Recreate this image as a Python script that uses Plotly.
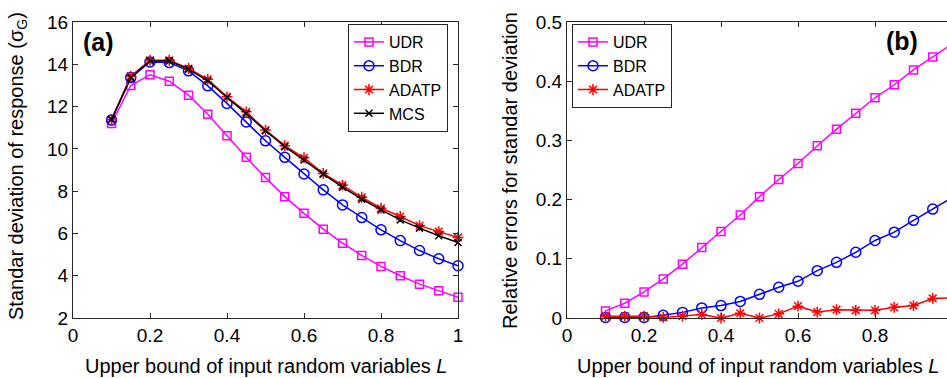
import plotly.graph_objects as go

# ---------------- data ----------------
L_values = [0.1, 0.15, 0.2, 0.25, 0.3, 0.35, 0.4, 0.45, 0.5, 0.55,
            0.6, 0.65, 0.7, 0.75, 0.8, 0.85, 0.9, 0.95, 1.0]

sigma_udr = [11.2, 13.0, 13.5, 13.2, 12.54, 11.64, 10.62, 9.6, 8.64, 7.74,
             6.95, 6.2, 5.54, 4.96, 4.44, 4.0, 3.6, 3.29, 2.98]
sigma_bdr = [11.36, 13.37, 14.11, 14.08, 13.69, 12.98, 12.15, 11.27, 10.38, 9.6,
             8.81, 8.06, 7.35, 6.75, 6.17, 5.66, 5.19, 4.8, 4.47]
sigma_adatp = [11.39, 13.44, 14.19, 14.19, 13.8, 13.29, 12.46, 11.75, 10.89, 10.15,
               9.58, 8.84, 8.28, 7.71, 7.19, 6.8, 6.37, 6.09, 5.81]
sigma_mcs = [11.39, 13.37, 14.16, 14.16, 13.77, 13.22, 12.43, 11.67, 10.86, 10.1,
             9.47, 8.8, 8.19, 7.62, 7.11, 6.64, 6.25, 5.89, 5.57]

err_udr = [0.012, 0.025, 0.044, 0.066, 0.091, 0.119, 0.146, 0.174, 0.205, 0.234,
           0.261, 0.291, 0.319, 0.346, 0.372, 0.394, 0.419, 0.441, 0.463]
err_bdr = [0.001, 0.001, 0.001, 0.0045, 0.0095, 0.017, 0.021, 0.028, 0.040, 0.052,
           0.062, 0.080, 0.094, 0.111, 0.131, 0.145, 0.165, 0.184, 0.203]
err_adatp = [0.003, 0.003, 0.003, 0.001, 0.003, 0.006, 0.0, 0.008, 0.0, 0.007,
             0.020, 0.010, 0.014, 0.013, 0.013, 0.018, 0.021, 0.033, 0.034]

x_ticks_a = [0, 0.2, 0.4, 0.6, 0.8, 1]
y_ticks_a = [2, 4, 6, 8, 10, 12, 14, 16]
x_ticks_b = [0, 0.2, 0.4, 0.6, 0.8]
y_ticks_b = [0, 0.1, 0.2, 0.3, 0.4, 0.5]

# ---------------- figure ----------------
W, H = 947, 378
FONT = "Liberation Sans, Arial, Helvetica, sans-serif"

def px(x):
    return x / W

def py(y):
    return 1 - y / H

styles = {
    "UDR": dict(color="#FF00FF", symbol="square-open", size=8),
    "BDR": dict(color="#0000FF", symbol="circle-open", size=10),
    "ADATP": dict(color="#FF0000", symbol="asterisk-open", size=9),
    "MCS": dict(color="#000000", symbol="x-thin-open", size=7),
}

fig = go.Figure()

def add(x, y, name, xa, ya, legend):
    s = styles[name]
    fig.add_trace(go.Scatter(
        x=x, y=y, name=name, mode="lines+markers",
        xaxis=xa, yaxis=ya, legend=legend, cliponaxis=False,
        line=dict(color=s["color"], width=1.5),
        marker=dict(symbol=s["symbol"], size=s["size"], color=s["color"],
                    line=dict(color=s["color"], width=1.5)),
    ))

add(L_values, sigma_udr, "UDR", "x", "y", "legend")
add(L_values, sigma_bdr, "BDR", "x", "y", "legend")
add(L_values, sigma_adatp, "ADATP", "x", "y", "legend")
add(L_values, sigma_mcs, "MCS", "x", "y", "legend")

add(L_values, err_udr, "UDR", "x2", "y2", "legend2")
add(L_values, err_bdr, "BDR", "x2", "y2", "legend2")
add(L_values, err_adatp, "ADATP", "x2", "y2", "legend2")

axis_common = dict(
    showline=True, linecolor="#262626", linewidth=1,
    ticks="inside", ticklen=5, tickwidth=1, tickcolor="#262626",
    showgrid=False, zeroline=False, automargin=False,
    tickfont=dict(family=FONT, size=19, color="#000"),
)

y_top, y_bot = 22, 318
fig.update_layout(
    width=W, height=H,
    margin=dict(l=0, r=0, t=0, b=0, autoexpand=False),
    paper_bgcolor="white", plot_bgcolor="white",
    font=dict(family=FONT, color="#000"),
    xaxis=dict(domain=[px(73), px(458)], range=[0, 1], tickvals=x_ticks_a,
               mirror="ticks", anchor="y", **axis_common),
    yaxis=dict(domain=[py(y_bot), py(y_top)], range=[2, 16], tickvals=y_ticks_a,
               mirror="ticks", anchor="x", **axis_common),
    xaxis2=dict(domain=[px(567), 1.0], range=[0, (947 - 567) / 385.0], tickvals=x_ticks_b,
                mirror="ticks", anchor="y2", **axis_common),
    yaxis2=dict(domain=[py(y_bot), py(y_top)], range=[0, 0.5], tickvals=y_ticks_b,
                mirror=False, anchor="x2", **axis_common),
    legend=dict(x=px(348), y=py(24), xanchor="left", yanchor="top",
                bgcolor="white", bordercolor="#262626", borderwidth=1,
                font=dict(family=FONT, size=16, color="#000"),
                itemwidth=30, tracegroupgap=0),
    legend2=dict(x=px(572), y=py(24), xanchor="left", yanchor="top",
                 bgcolor="white", bordercolor="#262626", borderwidth=1,
                 font=dict(family=FONT, size=16, color="#000"),
                 itemwidth=30, tracegroupgap=0),
    showlegend=True,
)

ann = []

def note(text, x, y, size, angle=0):
    ann.append(dict(text=text, x=px(x), y=py(y), xref="paper", yref="paper",
                    xanchor="center", yanchor="middle", textangle=angle,
                    showarrow=False, font=dict(family=FONT, size=size, color="#000")))

# panel labels
note("<b>(a)</b>", 98, 42, 25)
note("<b>(b)</b>", 902, 41, 25)
# axis titles
xt = "Upper bound of input random variables <i>L</i>"
note(xt, 266, 366, 20)
note(xt, 758, 366, 20)
note("Standar deviation of response (σ<sub>G</sub>)", 18, 166, 20, -90)
note("Relative errors for standar deviation", 510, 171, 20, -90)
fig.update_layout(annotations=ann)

fig.write_html("out.html", config={"displayModeBar": False},
               post_script="document.body.style.margin='0';document.body.style.padding='0';")
